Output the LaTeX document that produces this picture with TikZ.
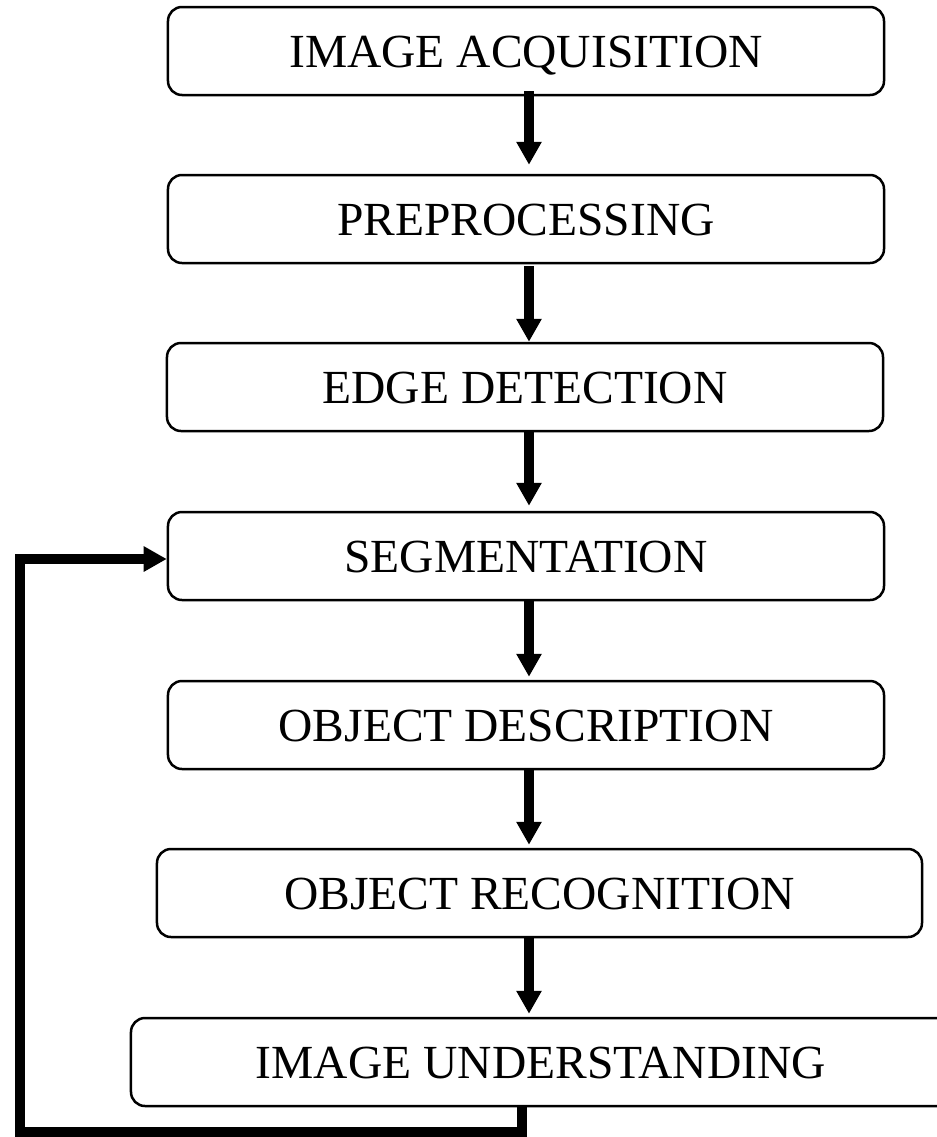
\documentclass[tikz,border=0pt]{standalone}
\usepackage{fontspec}
\setmainfont{Liberation Serif}
\usetikzlibrary{arrows.meta}
\tikzset{
  stage/.style={draw=black, line width=2.5bp, rounded corners=14bp, fill=white,
    minimum height=88bp, inner sep=0pt, text height=32bp, text depth=0bp,
    font=\fontsize{47.5bp}{57bp}\selectfont},
  flow/.style={line width=10bp, -{Triangle[length=23bp,width=24bp]}},
  feedback/.style={line width=10bp, line join=miter, -{Triangle[length=23bp,width=24bp]}}
}
\begin{document}
\begin{tikzpicture}[x=1bp,y=-1bp]
\useasboundingbox (0,0) rectangle (937,1137);
\clip (0,0) rectangle (937,1137);
\node[stage, minimum width=716bp] (b1) at (526,51) {IMAGE ACQUISITION};
\node[stage, minimum width=716bp] (b2) at (526,219) {PREPROCESSING};
\node[stage, minimum width=716bp] (b3) at (525,387) {EDGE DETECTION};
\node[stage, minimum width=716bp] (b4) at (526,556) {SEGMENTATION};
\node[stage, minimum width=716bp] (b5) at (526,725) {OBJECT DESCRIPTION};
\node[stage, minimum width=765bp] (b6) at (539.5,893) {OBJECT RECOGNITION};
\node[stage, minimum width=820bp] (b7) at (541,1062) {IMAGE UNDERSTANDING};
\coordinate (ax) at (529,0);
\coordinate (fbx) at (522,0);
\coordinate (fbl) at (20,1132);
\coordinate (fbin) at (20,559);
\draw[flow] ([yshift=5bp]b1.south -| ax) -- ([yshift=9bp]b2.north -| ax);
\draw[flow] ([yshift=-2bp]b2.south -| ax) -- (b3.north -| ax);
\draw[flow] (b3.south -| ax) -- ([yshift=5bp]b4.north -| ax);
\draw[flow] (b4.south -| ax) -- ([yshift=3bp]b5.north -| ax);
\draw[flow] (b5.south -| ax) -- ([yshift=3bp]b6.north -| ax);
\draw[flow] (b6.south -| ax) -- ([yshift=3bp]b7.north -| ax);
\draw[feedback] (b7.south -| fbx) -- (fbl -| fbx) -- (fbl) -- (fbin) -- (b4.west |- fbin);
\end{tikzpicture}
\end{document}
